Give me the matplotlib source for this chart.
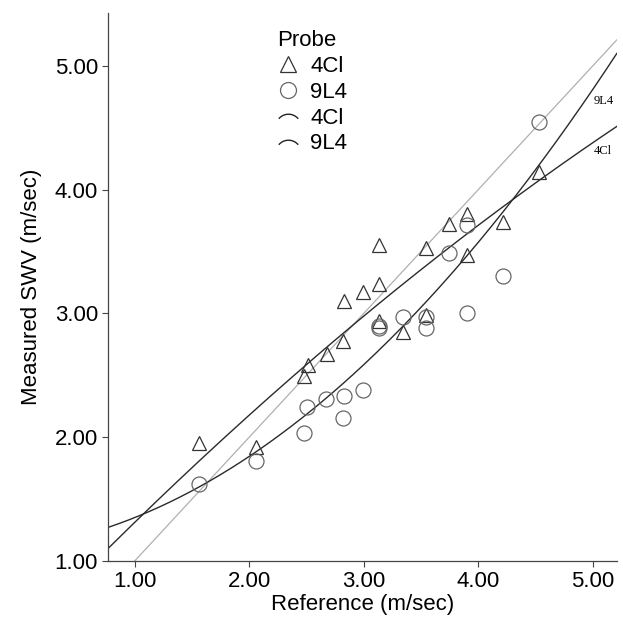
"""Measured SWV vs reference, two probes with quadratic fit lines."""

import matplotlib

matplotlib.use("Agg")
import matplotlib.pyplot as plt
import numpy as np
from matplotlib.lines import Line2D
from matplotlib.path import Path

plt.rcParams["font.family"] = ["Liberation Sans", "DejaVu Sans"]

# 4Cl probe (triangles)
ref_4cl = [1.56, 2.06, 2.48, 2.51, 2.68, 2.82, 2.83, 2.99, 3.13, 3.13,
           3.13, 3.34, 3.54, 3.54, 3.74, 3.90, 3.90, 4.22, 4.53]
swv_4cl = [1.95, 1.92, 2.49, 2.58, 2.67, 2.78, 3.10, 3.17, 3.24, 3.55,
           2.94, 2.85, 2.99, 3.53, 3.72, 3.80, 3.47, 3.74, 4.14]

# 9L4 probe (circles)
ref_9l4 = [1.56, 2.06, 2.48, 2.50, 2.67, 2.82, 2.83, 2.99, 3.13, 3.13,
           3.34, 3.54, 3.54, 3.74, 3.90, 3.90, 4.22, 4.53]
swv_9l4 = [1.62, 1.81, 2.03, 2.24, 2.31, 2.15, 2.33, 2.38, 2.90, 2.88,
           2.97, 2.97, 2.88, 3.49, 3.71, 3.00, 3.30, 4.55]

# quadratic fit lines as drawn in the source (highest power first)
fit_4cl = [-0.0332, 0.966, 0.379]
fit_9l4 = [0.1235, 0.124, 1.102]

x_lim = (0.767, 5.21)
y_lim = (1.0, 5.43)
x_ticks = [1.0, 2.0, 3.0, 4.0, 5.0]
y_ticks = [1.0, 2.0, 3.0, 4.0, 5.0]


def arc_marker() -> Path:
    t = np.radians(np.linspace(40, 140, 30))
    y = np.sin(t)
    y = y - (y.min() + y.max()) / 2
    return Path(np.column_stack([np.cos(t), y]))


def main() -> None:
    fig = plt.figure(figsize=(6.23, 6.21), dpi=100)
    ax = fig.add_axes([0.1738, 0.0971, 0.8162, 0.8824])

    xs = np.linspace(x_lim[0], x_lim[1], 200)
    ax.plot(xs, xs, color="#b0b0b0", lw=0.9, zorder=1)
    ax.plot(xs, np.polyval(fit_4cl, xs), color="#2a2a2a", lw=1.0, zorder=2)
    ax.plot(xs, np.polyval(fit_9l4, xs), color="#2a2a2a", lw=1.0, zorder=2)

    ax.plot(ref_4cl, swv_4cl, linestyle="none", marker="^", ms=10,
            mfc="none", mec="#333333", mew=0.9, zorder=3)
    ax.plot(ref_9l4, swv_9l4, linestyle="none", marker="o", ms=10.8,
            mfc="none", mec="#666666", mew=0.9, zorder=3)

    serif = ["Liberation Serif", "DejaVu Serif"]
    ax.text(5.01, 4.72, "9L4", fontsize=9, family=serif, va="center", ha="left")
    ax.text(5.01, 4.31, "4Cl", fontsize=9, family=serif, va="center", ha="left")

    ax.set_xlim(*x_lim)
    ax.set_ylim(*y_lim)
    ax.set_xticks(x_ticks)
    ax.set_yticks(y_ticks)
    ax.set_xticklabels([f"{v:.2f}" for v in x_ticks])
    ax.set_yticklabels([f"{v:.2f}" for v in y_ticks])
    ax.tick_params(labelsize=16, length=4, width=0.8, color="#444444")
    ax.set_xlabel("Reference (m/sec)", fontsize=16, labelpad=1)
    ax.set_ylabel("Measured SWV (m/sec)", fontsize=16, labelpad=9)
    for side in ("top", "right"):
        ax.spines[side].set_visible(False)
    for side in ("left", "bottom"):
        ax.spines[side].set_color("#444444")
        ax.spines[side].set_linewidth(0.9)

    arc = arc_marker()
    handles = [
        Line2D([], [], linestyle="none", marker="^", ms=11, mfc="none",
               mec="#333333", mew=0.9),
        Line2D([], [], linestyle="none", marker="o", ms=11.5, mfc="none",
               mec="#666666", mew=0.9),
        Line2D([], [], linestyle="none", marker=arc, ms=14, mfc="none",
               mec="#222222", mew=1.0),
        Line2D([], [], linestyle="none", marker=arc, ms=14, mfc="none",
               mec="#222222", mew=1.0),
    ]
    labels = ["4Cl", "9L4", "4Cl", "9L4"]
    leg = ax.legend(handles, labels, title="Probe", frameon=False,
                    fontsize=16, title_fontsize=16, loc="upper left",
                    bbox_to_anchor=(0.303, 0.995), handlelength=1.0,
                    handletextpad=0.5, labelspacing=0.22, borderpad=0.15)
    leg._legend_box.align = "left"

    fig.savefig("out.png", dpi=100)
    plt.close(fig)


if __name__ == "__main__":
    main()
